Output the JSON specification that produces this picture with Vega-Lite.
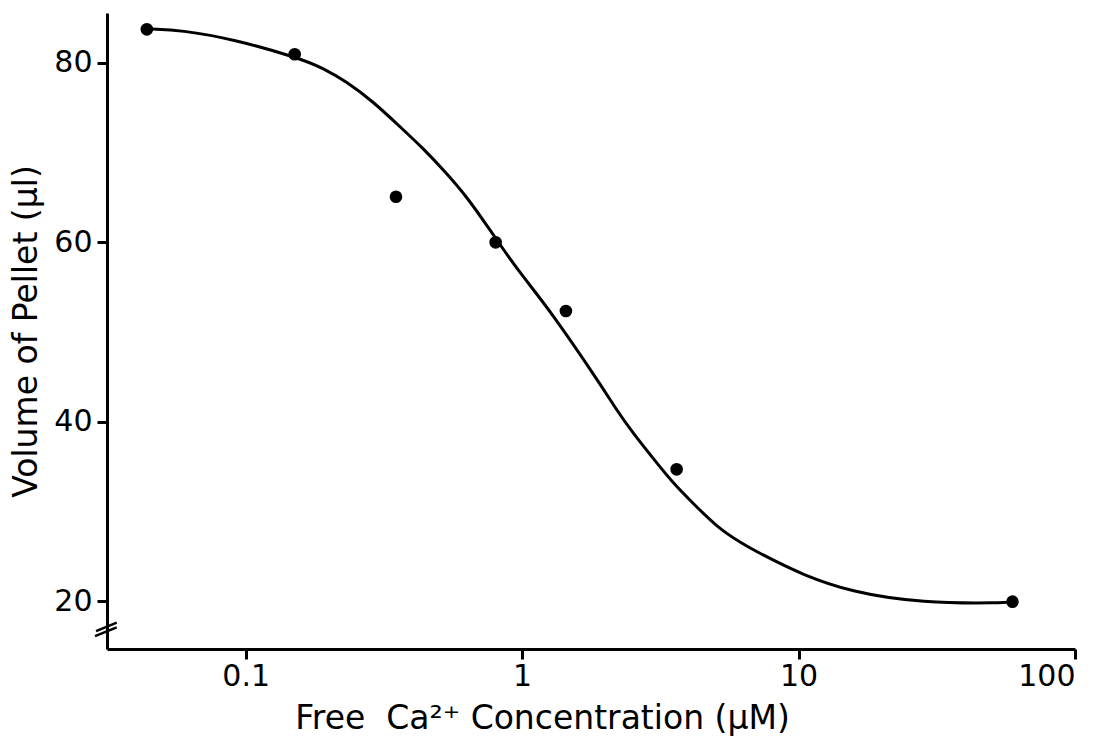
{
  "$schema": "https://vega.github.io/schema/vega-lite/v6.json",
  "autosize": "none",
  "width": 968,
  "height": 636,
  "padding": {"left": 107, "top": 13, "right": 34, "bottom": 100},
  "background": "white",
  "config": {
    "view": {"stroke": null},
    "font": "DejaVu Sans",
    "axis": {
      "grid": false,
      "domainColor": "black",
      "domainWidth": 3,
      "tickColor": "black",
      "tickWidth": 3,
      "tickSize": 10,
      "labelColor": "black",
      "labelFont": "DejaVu Sans",
      "labelFontSize": 30,
      "titleColor": "black",
      "titleFont": "DejaVu Sans",
      "titleFontSize": 33,
      "titleFontWeight": "normal"
    }
  },
  "datasets": {
    "curve": [
      {"x": 0.0458, "y": 83.76},
      {"x": 0.0579, "y": 83.65},
      {"x": 0.09, "y": 82.65},
      {"x": 0.1572, "y": 80.5},
      {"x": 0.1909, "y": 79.39},
      {"x": 0.2318, "y": 77.9},
      {"x": 0.2893, "y": 75.67},
      {"x": 0.3614, "y": 72.88},
      {"x": 0.4387, "y": 70.47},
      {"x": 0.5331, "y": 67.69},
      {"x": 0.6298, "y": 65.08},
      {"x": 0.7437, "y": 61.93},
      {"x": 0.81, "y": 60.26},
      {"x": 0.9817, "y": 56.58},
      {"x": 1.26, "y": 52.46},
      {"x": 1.911, "y": 44.29},
      {"x": 2.197, "y": 41.31},
      {"x": 2.522, "y": 38.72},
      {"x": 2.979, "y": 35.93},
      {"x": 3.52, "y": 33.15},
      {"x": 4.157, "y": 30.92},
      {"x": 5.194, "y": 27.94},
      {"x": 6.669, "y": 25.91},
      {"x": 8.327, "y": 24.41},
      {"x": 10.11, "y": 23.12},
      {"x": 15.33, "y": 21.04},
      {"x": 28.15, "y": 19.81},
      {"x": 54.8, "y": 19.81},
      {"x": 59.6, "y": 19.96}
    ],
    "points": [
      {"x": 0.0439, "y": 83.73},
      {"x": 0.1504, "y": 80.95},
      {"x": 0.3497, "y": 65.08},
      {"x": 0.802, "y": 60.0},
      {"x": 1.44, "y": 52.35},
      {"x": 3.622, "y": 34.71},
      {"x": 59.4, "y": 19.96}
    ],
    "breaks": [
      {"seg": "a", "x": 0.02875, "y": 16.69},
      {"seg": "a", "x": 0.03415, "y": 17.62},
      {"seg": "b", "x": 0.02851, "y": 16.13},
      {"seg": "b", "x": 0.03415, "y": 17.10}
    ]
  },
  "encoding": {
    "x": {
      "field": "x",
      "type": "quantitative",
      "scale": {"type": "log", "domain": [0.0315, 100], "nice": false},
      "axis": {
        "values": [0.1, 1, 10, 100],
        "format": "~g",
        "labelPadding": 2,
        "title": "Free\u00a0\u00a0Ca²⁺ Concentration (µM)",
        "titleX": 435,
        "titlePadding": 11,
        "encode": {"ticks": {"update": {"y2": {"value": -10}}}}
      }
    },
    "y": {
      "field": "y",
      "type": "quantitative",
      "scale": {"domain": [14.69, 85.55], "nice": false, "zero": false},
      "axis": {
        "values": [20, 40, 60, 80],
        "labelPadding": 5,
        "title": "Volume of Pellet (µl)",
        "titlePadding": 10,
        "encode": {"ticks": {"update": {"x2": {"value": 10}}}}
      }
    }
  },
  "layer": [
    {
      "data": {"name": "curve"},
      "mark": {"type": "line", "color": "black", "strokeWidth": 3, "interpolate": "basis"}
    },
    {
      "data": {"name": "points"},
      "mark": {"type": "point", "shape": "circle", "filled": true, "color": "black", "opacity": 1, "size": 160}
    },
    {
      "data": {"name": "breaks"},
      "mark": {"type": "line", "color": "black", "strokeWidth": 2.5},
      "encoding": {"detail": {"field": "seg"}}
    }
  ]
}
